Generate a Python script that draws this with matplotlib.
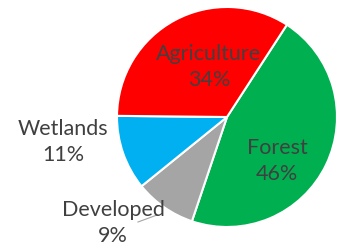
import matplotlib.pyplot as plt

# Land use shares (%), drawn clockwise starting near the top right
labels = ['Forest', 'Developed', 'Wetlands', 'Agriculture']
shares = [46, 9, 11, 34]
colors = ['#00B050', '#A5A5A5', '#00B0F0', '#FF0000']

W, H = 339, 248
fig = plt.figure(figsize=(W / 100, H / 100), dpi=100)
ax = fig.add_axes([0, 0, 1, 1])

cx, cy, r = 227, H - 117, 110
wedges, _ = ax.pie(shares, colors=colors, startangle=57, counterclock=False,
                   center=(cx, cy), radius=r, frame=True,
                   wedgeprops=dict(edgecolor='white', linewidth=1.5))
ax.set_xlim(0, W)
ax.set_ylim(0, H)
ax.axis('off')

# label positions in pixels (x, y from top)
label_pos = {'Agriculture': (209, 67), 'Forest': (277, 161),
             'Wetlands': (63, 142), 'Developed': (113, 223)}
for lab, val in zip(labels, shares):
    x, y = label_pos[lab]
    ax.text(x, H - y, f'{lab}\n{val}%', ha='center', va='center',
            fontsize=15.5, family='Lato', color='#404040', linespacing=1.4)

# leader line for Developed
ax.plot([138, 157], [H - 222, H - 215], color='#A5A5A5', lw=0.8)

fig.savefig('out.png', dpi=100)
